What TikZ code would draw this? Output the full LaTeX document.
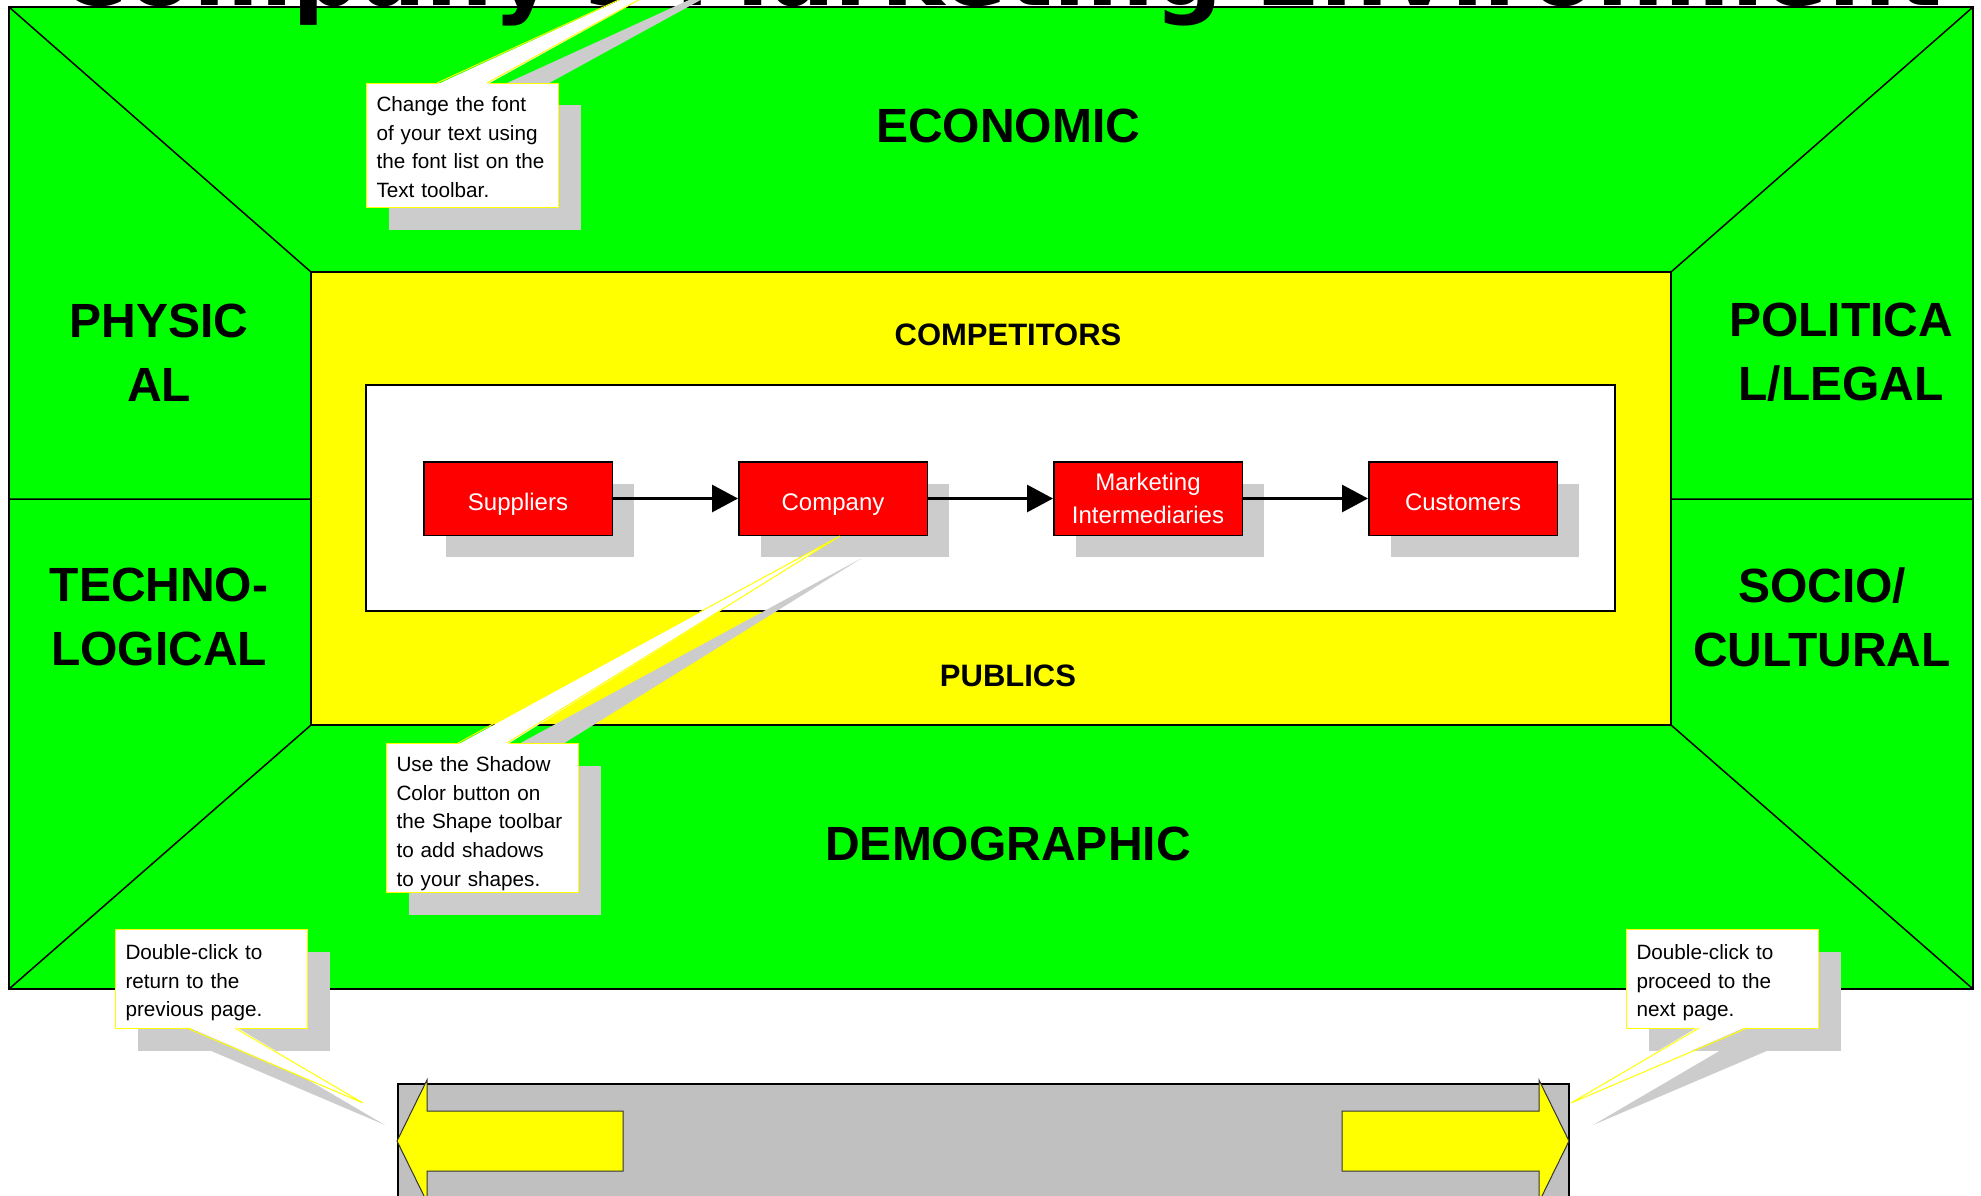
\documentclass[tikz,border=0pt]{standalone}
\usepackage{fontspec}
\setmainfont{Liberation Sans}
\newfontfamily\headfont{DejaVu Sans}
\usetikzlibrary{calc,positioning,shadows,arrows.meta}
\definecolor{envgreen}{RGB}{0,255,0}
\definecolor{ringyellow}{RGB}{255,255,0}
\definecolor{firmred}{RGB}{255,0,0}
\definecolor{shadegray}{RGB}{204,204,204}
\definecolor{bargray}{RGB}{192,192,192}
\tikzset{boxshadow/.style={drop shadow={shadow xshift=22pt,shadow yshift=-22pt,fill=shadegray,opacity=1}}}
\def\firmnode{\node[draw=black,line width=1.5pt,fill=firmred,text=white,minimum width=188.5pt,minimum height=73.5pt,inner sep=0pt,text height=24pt,text depth=1pt,align=center,font=\fontsize{24}{33}\selectfont,boxshadow]}
\def\hintnode{\node[draw=ringyellow,fill=white,line width=1pt,anchor=north west,inner xsep=10pt,inner ysep=0pt,text width=172pt,text height=28pt,align=left,font=\fontsize{20.7}{28.7}\selectfont,boxshadow]}

\begin{document}
\begin{tikzpicture}[x=1pt,y=-1pt,
  envlabel/.style={inner sep=0pt,align=center,font=\fontsize{48}{64}\selectfont\bfseries},
  ringlabel/.style={inner sep=0pt,font=\fontsize{31}{36}\selectfont\bfseries},
  flow/.style={line width=3pt,-{Triangle[length=26pt,width=27pt]}},
  wedge/.style={draw=ringyellow,line width=1pt}]
\useasboundingbox (0,0) rectangle (1981,1196);
\clip (0,0) rectangle (1981,1196);
\filldraw[fill=envgreen,draw=black,line width=2pt] (9,7) rectangle (1973,989);
\draw[line width=1.5pt] (9,7) -- (311,272) (1973,7) -- (1671,272)
  (9,989) -- (311,725) (1973,989) -- (1671,725)
  (9,499) -- (311,499) (1671,499) -- (1973,499);
\filldraw[fill=ringyellow,draw=black,line width=2pt] (311,272) rectangle (1671,725);
\filldraw[fill=white,draw=black,line width=2pt] (366,385) rectangle (1615,611);
\node[anchor=base,inner sep=0pt,font=\headfont\bfseries\fontsize{95.5}{100}\selectfont] (title) at (1000,5.5) {Company's Marketing Environment};
\node[envlabel] (economic) at (1008,125.5) {ECONOMIC};
\node[envlabel] (physical) at (159,352.5) {PHYSIC\\AL};
\node[envlabel] (political) at (1841,352.5) {POLITICA\\L/LEGAL};
\node[envlabel] (techno) at (159,617) {TECHNO-\\LOGICAL};
\node[envlabel] (socio) at (1822,617) {SOCIO/\\CULTURAL};
\node[envlabel] (demographic) at (1008,844) {DEMOGRAPHIC};
\node[ringlabel] (competitors) at (1008,335) {COMPETITORS};
\node[ringlabel] (publics) at (1008,676) {PUBLICS};
\firmnode (suppliers) at (518,498.5) {Suppliers};
\firmnode (company) [right=125pt of suppliers] {Company};
\firmnode (intermediaries) [right=125pt of company,text height=,text depth=] {Marketing\\Intermediaries};
\firmnode (customers) [right=125pt of intermediaries] {Customers};
\draw[flow] (suppliers) -- (company);
\draw[flow] (company) -- (intermediaries);
\draw[flow] (intermediaries) -- (customers);
\filldraw[fill=bargray,draw=black,line width=1.5pt] (398,1084) rectangle (1569,1210);
\filldraw[fill=ringyellow,draw=black!80,line width=1pt] (397,1141) -- (427,1080) -- (427,1111) -- (623,1111) -- (623,1171) -- (427,1171) -- (427,1202) -- cycle;
\filldraw[fill=ringyellow,draw=black!80,line width=1pt] (1569,1141) -- (1539,1080) -- (1539,1111) -- (1342,1111) -- (1342,1171) -- (1539,1171) -- (1539,1202) -- cycle;
\coordinate (fontc) at (366,83);
\coordinate (fonttip) at (737,-54);
\coordinate (shadowc) at (386,743);
\coordinate (shadowtip) at (840,536);
\coordinate (backc) at (115,929);
\coordinate (backtip) at (363,1103);
\coordinate (nextc) at (1626,929);
\coordinate (nexttip) at (1571,1103);
\fill[shadegray] ($(fontc)+(93,22)$) -- ($(fonttip)+(22,22)$) -- ($(fontc)+(143,22)$) -- cycle;
\hintnode (fontnote) [text depth=96pt] at (fontc) {Change the font\\of your text using\\the font list on the\\Text toolbar.};
\fill[white] ($(fontc)+(71,1.5)$) -- (fonttip) -- ($(fontc)+(121,1.5)$) -- cycle;
\draw[wedge] ($(fontc)+(71,0)$) -- (fonttip) -- ($(fontc)+(121,0)$);
\fill[shadegray] ($(shadowc)+(94,22)$) -- ($(shadowtip)+(22,22)$) -- ($(shadowc)+(143,22)$) -- cycle;
\hintnode (shadownote) [text depth=121pt] at (shadowc) {Use the Shadow\\Color button on\\the Shape toolbar\\to add shadows\\to your shapes.};
\fill[white] ($(shadowc)+(72,1.5)$) -- (shadowtip) -- ($(shadowc)+(121,1.5)$) -- cycle;
\draw[wedge] ($(shadowc)+(72,0)$) -- (shadowtip) -- ($(shadowc)+(121,0)$);
\fill[shadegray] ($(backc)+(94,121)$) -- ($(backtip)+(22,22)$) -- ($(backc)+(142,121)$) -- cycle;
\hintnode (backnote) [text height=30pt,text depth=69pt] at (backc) {Double-click to\\return to the\\previous page.};
\fill[white] ($(backc)+(72,97.5)$) -- (backtip) -- ($(backc)+(120,97.5)$) -- cycle;
\draw[wedge] ($(backc)+(72,99)$) -- (backtip) -- ($(backc)+(120,99)$);
\fill[shadegray] ($(nextc)+(95,121)$) -- ($(nexttip)+(22,22)$) -- ($(nextc)+(143,121)$) -- cycle;
\hintnode (nextnote) [text height=30pt,text depth=69pt] at (nextc) {Double-click to\\proceed to the\\next page.};
\fill[white] ($(nextc)+(73,97.5)$) -- (nexttip) -- ($(nextc)+(121,97.5)$) -- cycle;
\draw[wedge] ($(nextc)+(73,99)$) -- (nexttip) -- ($(nextc)+(121,99)$);
\end{tikzpicture}
\end{document}
